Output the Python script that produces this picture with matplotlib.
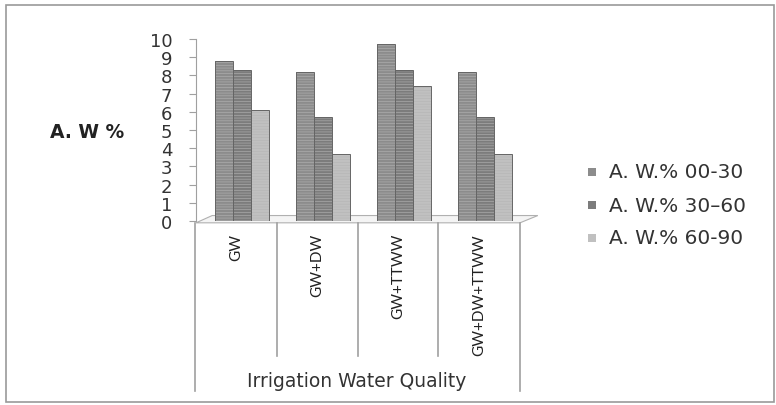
import numpy as np
import matplotlib.pyplot as plt
from matplotlib.patches import Polygon, Rectangle
from matplotlib.lines import Line2D

# available water (%) per soil depth for each irrigation water quality
categories = ['GW', 'GW+DW', 'GW+TTWW', 'GW+DW+TTWW']
aw_00_30 = [8.8, 8.2, 9.7, 8.2]
aw_30_60 = [8.3, 5.7, 8.3, 5.7]
aw_60_90 = [6.1, 3.7, 7.4, 3.7]
series_names = ['A. W.% 00-30', 'A. W.% 30\u201360', 'A. W.% 60-90']
series_colors = ['#8c8c8c', '#7c7c7c', '#c0c0c0']
yticks = list(range(0, 11))

plt.rcParams['hatch.linewidth'] = 0.4

W, H = 776, 406
fig = plt.figure(figsize=(W / 100, H / 100), dpi=100)
fig.patch.set_facecolor('white')


def fx(px):
    return px / W


def fy(py):
    return 1 - py / H


# outer chart frame
fig.add_artist(Rectangle((fx(6), fy(403)), fx(768), 397 / H, transform=fig.transFigure,
                         fill=False, edgecolor='#9a9a9a', lw=1.2))

ax = fig.add_axes([fx(196), fy(222), fx(520) - fx(196), fy(40) - fy(222)])
ax.set_xlim(-0.5, len(categories) - 0.5)
ax.set_ylim(0, 10)
ax.patch.set_alpha(0)

# slanted floor under the columns
floor = Polygon([(-0.5, -0.1), (3.5, -0.1), (3.72, 0.3), (-0.3, 0.3)], closed=True,
                facecolor='#f4f4f4', edgecolor='#b0b0b0', lw=0.8, clip_on=False, zorder=1)
ax.add_patch(floor)

x = np.arange(len(categories))
bw = 0.22
offsets = [-0.15, 0.07, 0.29]
for vals, off, col in zip([aw_00_30, aw_30_60, aw_60_90], offsets, series_colors):
    # faint horizontal texture, then the outline on top
    ax.bar(x + off, vals, width=bw, color=col, edgecolor='#b4b4b4', lw=0,
           hatch='------', zorder=3)
    ax.bar(x + off, vals, width=bw, color='none', edgecolor='#656565', lw=0.7, zorder=4)

for s in ['top', 'right', 'bottom']:
    ax.spines[s].set_visible(False)
ax.spines['left'].set_color('#a0a0a0')
ax.set_yticks(yticks)
ax.set_xticks([])
ax.tick_params(axis='y', length=5, color='#a0a0a0', labelsize=13, labelcolor='#333333', pad=12)

fig.text(fx(50), fy(132), 'A. W %', fontsize=13.5, fontweight='bold', color='#222222',
         va='center', ha='left')

# category table below the axis
cell_edges = [195, 277, 358, 438, 520]
for i, xe in enumerate(cell_edges):
    bottom = 392 if i in (0, len(cell_edges) - 1) else 357
    fig.add_artist(Line2D([fx(xe), fx(xe)], [fy(224), fy(bottom)], transform=fig.transFigure,
                          color='#a0a0a0', lw=1.2))
for i, cat in enumerate(categories):
    cx = (cell_edges[i] + cell_edges[i + 1]) / 2
    fig.text(fx(cx), fy(234), cat, rotation=90, fontsize=11, family='Lato', color='#222222',
             ha='center', va='top')
fig.text(fx(357), fy(382), 'Irrigation Water Quality', fontsize=13.5, color='#333333',
         ha='center', va='center')

# legend
leg_y = [173, 206, 239]
for name, col, yy in zip(series_names, series_colors, leg_y):
    fig.add_artist(Rectangle((fx(588), fy(yy + 4)), fx(8), 8 / H, transform=fig.transFigure,
                             facecolor=col, edgecolor='none'))
    fig.text(fx(609), fy(yy), name, fontsize=14.5, color='#333333', va='center', ha='left')

fig.savefig('out.png', dpi=100, facecolor='white')
